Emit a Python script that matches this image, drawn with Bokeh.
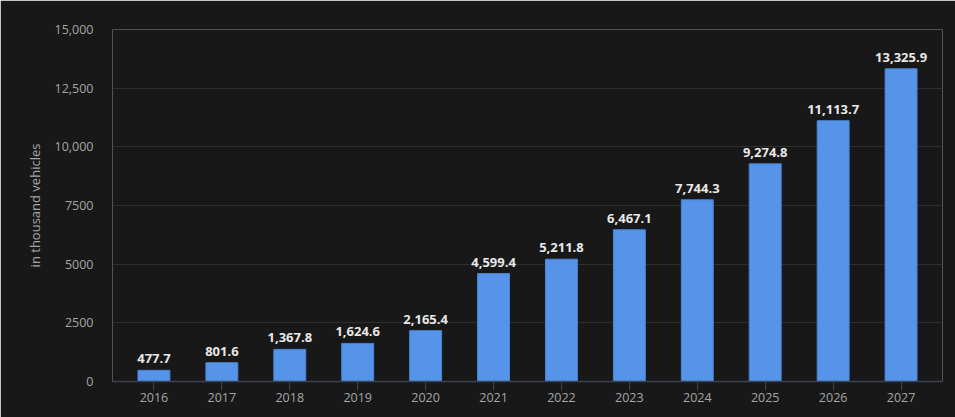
from bokeh.plotting import figure
from bokeh.models import ColumnDataSource, FactorRange, Range1d, FixedTicker
from bokeh.core.properties import value
from bokeh.embed import file_html
from bokeh.resources import INLINE

years = ["2016", "2017", "2018", "2019", "2020", "2021", "2022", "2023", "2024", "2025", "2026", "2027"]
values = [477.7, 801.6, 1367.8, 1624.6, 2165.4, 4599.4, 5211.8, 6467.1, 7744.3, 9274.8, 11113.7, 13325.9]
value_labels = ["477.7", "801.6", "1,367.8", "1,624.6", "2,165.4", "4,599.4", "5,211.8",
                "6,467.1", "7,744.3", "9,274.8", "11,113.7", "13,325.9"]
y_ticks = [0, 2500, 5000, 7500, 10000, 12500, 15000]
y_tick_labels = ["0", "2500", "5000", "7500", "10,000", "12,500", "15,000"]
y_title = "in thousand vehicles"

BG = "#181818"
FONT = "Open Sans"

src = ColumnDataSource(dict(x=years, top=values, label=value_labels))

p = figure(width=955, height=417, output_backend="svg", toolbar_location=None,
           x_range=FactorRange(*years, range_padding=0.11, range_padding_units="absolute"),
           y_range=Range1d(0, 15000),
           min_border_left=112, min_border_right=13, min_border_top=29, min_border_bottom=36)
p.background_fill_color = BG
p.border_fill_color = BG
p.outline_line_color = None

p.vbar(x="x", top="top", width=0.47, source=src, fill_color="#5594E8", line_color="#4a84d4", line_width=1)
p.text(x="x", y="top", text="label", source=src, text_align="center", text_baseline="bottom",
       y_offset=-7, text_font_size="13px", text_font_style="bold", text_color="#e8e8e8",
       text_font=value(FONT))

# y axis
p.yaxis.ticker = FixedTicker(ticks=y_ticks)
p.yaxis.major_label_overrides = {t: l for t, l in zip(y_ticks, y_tick_labels)}
p.yaxis.axis_line_color = None
p.yaxis.major_tick_line_color = None
p.yaxis.minor_tick_line_color = None
p.yaxis.major_label_standoff = 13
p.yaxis.major_label_text_color = "#a6a6a6"
p.yaxis.major_label_text_font_size = "12.5px"
p.yaxis.major_label_text_font = FONT
p.yaxis.axis_label = y_title
p.yaxis.axis_label_text_color = "#a6a6a6"
p.yaxis.axis_label_text_font_size = "13px"
p.yaxis.axis_label_text_font = FONT
p.yaxis.axis_label_text_font_style = "normal"
p.yaxis.axis_label_standoff = 8

# x axis
p.xaxis.axis_line_color = "#3a4252"
p.xaxis.axis_line_width = 1.5
p.xaxis.major_tick_line_color = "#3a4252"
p.xaxis.major_tick_out = 9
p.xaxis.major_tick_in = 0
p.xaxis.major_label_standoff = 2
p.xaxis.major_label_text_color = "#a6a6a6"
p.xaxis.major_label_text_font_size = "12.5px"
p.xaxis.major_label_text_font = FONT

p.xgrid.grid_line_color = None
p.ygrid.grid_line_color = "#2e2e2e"
p.ygrid.grid_line_width = 1

open("out.html", "w").write(file_html(p, INLINE))
